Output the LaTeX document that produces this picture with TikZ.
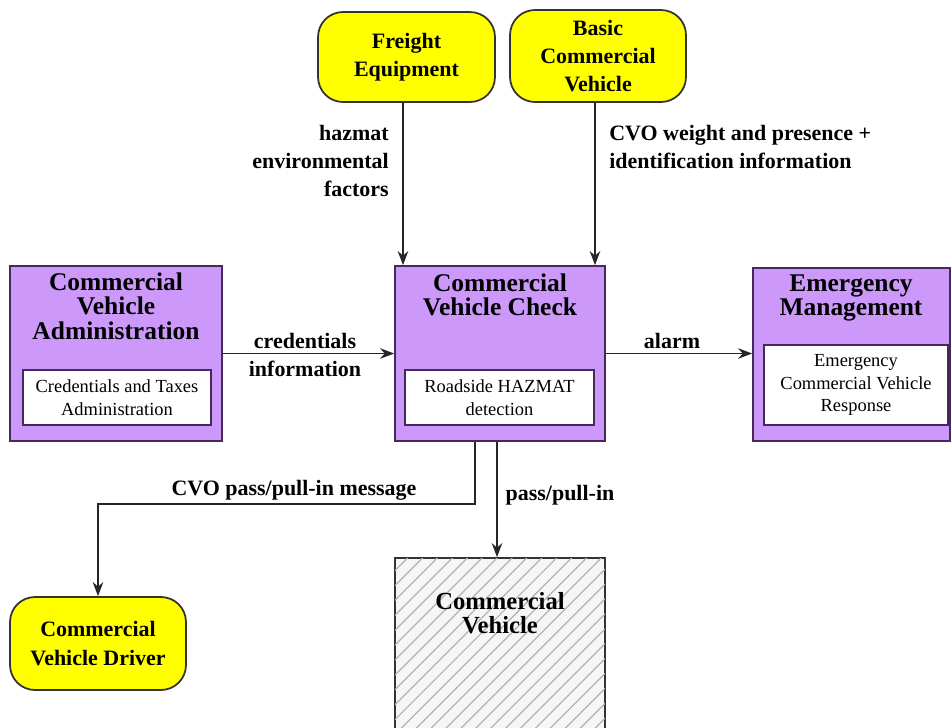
\documentclass[tikz,border=0pt]{standalone}
\usepackage{fontspec}
\setmainfont{Liberation Serif}
\usetikzlibrary{arrows.meta,patterns.meta}
\definecolor{purp}{RGB}{204,153,250}
\definecolor{purpline}{RGB}{70,40,90}
\definecolor{yel}{RGB}{255,255,0}
\definecolor{hatchbg}{RGB}{246,246,246}
\tikzset{
  purpbox/.style={draw=purpline,line width=1pt,fill=purp,inner sep=0pt},
  innerbox/.style={draw=purpline,line width=0.9pt,fill=white,inner sep=0pt,align=center,font=\fontsize{10.5}{13}\selectfont},
  yelbox/.style={draw=black!80,line width=1pt,fill=yel,rounded corners=0.5cm,inner sep=0pt,align=center,font=\bfseries\fontsize{12.5}{16}\selectfont},
  ttl/.style={align=center,font=\bfseries\fontsize{14.5}{14}\selectfont,inner sep=0pt},
  lbl/.style={font=\bfseries\fontsize{12.5}{16}\selectfont,inner sep=0pt},
  arr/.style={draw=black!85,line width=0.8pt,-{Stealth[length=8pt,width=6pt]}}
}
\begin{document}
\begin{tikzpicture}[x=0.02cm,y=-0.02cm]
\clip (0,0) rectangle (952,727);
\fill[white] (0,0) rectangle (952,727);

% yellow nodes
\node[yelbox,minimum width=3.54cm,minimum height=1.8cm] (fe) at (406.5,57) {Freight\\Equipment};
\node[yelbox,minimum width=3.52cm,minimum height=1.84cm] (bcv) at (598,56) {Basic\\Commercial\\Vehicle};
\node[yelbox,minimum width=3.52cm,minimum height=1.86cm] (drv) at (98,643.5) {Commercial\\Vehicle Driver};

% purple boxes
\node[purpbox,minimum width=4.24cm,minimum height=3.5cm] (cva) at (116,353.5) {};
\node[ttl] (cvat) at (116,306) {Commercial\\Vehicle\\Administration};
\node[innerbox,minimum width=3.76cm,minimum height=1.1cm] (cvai) at (117,397.5) {Credentials and Taxes\\Administration};

\node[purpbox,minimum width=4.2cm,minimum height=3.5cm] (cvc) at (500,353.5) {};
\node[ttl] (cvct) at (500,295) {Commercial\\Vehicle Check};
\node[innerbox,minimum width=3.78cm,minimum height=1.1cm] (cvci) at (499.5,397.5) {Roadside HAZMAT\\detection};

\node[purpbox,minimum width=3.94cm,minimum height=3.46cm] (em) at (851.5,354.5) {};
\node[ttl] (emt) at (851,298) {Emergency\\Management};
\node[innerbox,minimum width=3.68cm,minimum height=1.6cm] (emi) at (856,385) {Emergency\\Commercial Vehicle\\Response};

% hatched commercial vehicle
\node[draw=black!80,line width=1pt,fill=hatchbg,
      postaction={pattern={Lines[angle=45,distance=6pt,line width=0.7pt]},pattern color=black!30},
      minimum width=4.2cm,minimum height=4.04cm,inner sep=0pt] (cv) at (500,659) {};
\node[ttl,font=\bfseries\fontsize{14}{14}\selectfont] (cvt) at (500,613) {Commercial\\Vehicle};

% connectors
\coordinate (c0) at (403,0);
\draw[arr] (fe.south -| c0) -- (c0 |- cvc.north);
\coordinate (c3) at (595,0);
\draw[arr] (bcv.south -| c3) -- (c3 |- cvc.north);
\draw[arr] (cva.east) -- (cvc.west);
\draw[arr] (cvc.east) -- (em.west |- cvc.east);
\coordinate (c1) at (475,504);
\draw[arr] (cvc.south -| c1) -- (c1) -| (drv.north);
\coordinate (c2) at (497,500);
\draw[arr] (cvc.south -| c2) -- (cv.north -| c2);

% labels
\node[lbl,anchor=east,align=right] (l1) at (389,161) {hazmat\\environmental\\factors};
\node[lbl,anchor=west,align=left] (l2) at (609,147) {CVO weight and presence +\\identification information};
\node[lbl,align=center] (l3) at (305,355) {credentials\\information};
\node[lbl] (l4) at (672,341) {alarm};
\node[lbl] (l5) at (294,490) {CVO pass/pull-in message};
\node[lbl] (l6) at (560,495) {pass/pull-in};
\end{tikzpicture}
\end{document}
